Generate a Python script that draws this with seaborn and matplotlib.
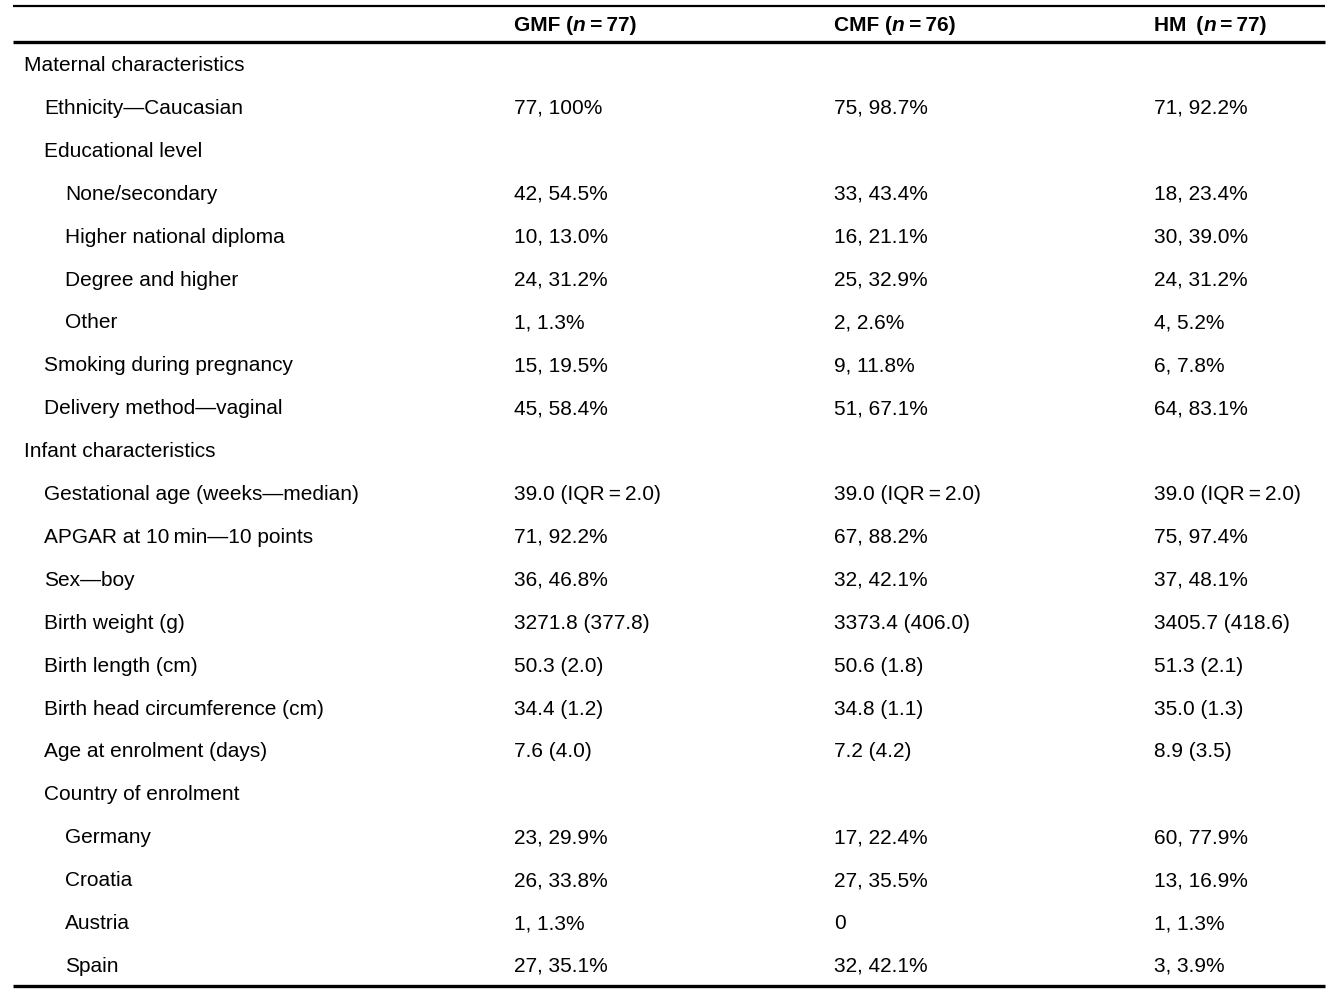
import matplotlib
matplotlib.use('Agg')
import matplotlib.pyplot as plt
import matplotlib.transforms as mtransforms
import seaborn as sns

# table content
row_labels = [
    'Maternal characteristics', 'Ethnicity\u2014Caucasian', 'Educational level',
    'None/secondary', 'Higher national diploma', 'Degree and higher', 'Other',
    'Smoking during pregnancy', 'Delivery method\u2014vaginal',
    'Infant characteristics', 'Gestational age (weeks\u2014median)',
    'APGAR at 10\u2009min\u201410 points', 'Sex\u2014boy', 'Birth weight (g)',
    'Birth length (cm)', 'Birth head circumference (cm)', 'Age at enrolment (days)',
    'Country of enrolment', 'Germany', 'Croatia', 'Austria', 'Spain',
]
indent_levels = [0, 1, 1, 2, 2, 2, 2, 1, 1, 0, 1, 1, 1, 1, 1, 1, 1, 1, 2, 2, 2, 2]

iqr = '39.0 (IQR\u2009=\u20092.0)'
gmf_vals = ['', '77, 100%', '', '42, 54.5%', '10, 13.0%', '24, 31.2%', '1, 1.3%',
            '15, 19.5%', '45, 58.4%', '', iqr, '71, 92.2%', '36, 46.8%',
            '3271.8 (377.8)', '50.3 (2.0)', '34.4 (1.2)', '7.6 (4.0)', '',
            '23, 29.9%', '26, 33.8%', '1, 1.3%', '27, 35.1%']
cmf_vals = ['', '75, 98.7%', '', '33, 43.4%', '16, 21.1%', '25, 32.9%', '2, 2.6%',
            '9, 11.8%', '51, 67.1%', '', iqr, '67, 88.2%', '32, 42.1%',
            '3373.4 (406.0)', '50.6 (1.8)', '34.8 (1.1)', '7.2 (4.2)', '',
            '17, 22.4%', '27, 35.5%', '0', '32, 42.1%']
hm_vals = ['', '71, 92.2%', '', '18, 23.4%', '30, 39.0%', '24, 31.2%', '4, 5.2%',
           '6, 7.8%', '64, 83.1%', '', iqr, '75, 97.4%', '37, 48.1%',
           '3405.7 (418.6)', '51.3 (2.1)', '35.0 (1.3)', '8.9 (3.5)', '',
           '60, 77.9%', '13, 16.9%', '1, 1.3%', '3, 3.9%']

group_names = ['GMF', 'CMF', 'HM']
group_n = [77, 76, 77]

sns.set_theme(style='white')
plt.rcParams['font.family'] = ['Liberation Sans', 'DejaVu Sans']
plt.rcParams['text.color'] = 'black'

W, H = 1334, 993
fig = plt.figure(figsize=(W / 100, H / 100), dpi=100)
ax = fig.add_axes([0, 0, 1, 1])
ax.set_xlim(0, W)
# row r sits at pixel 64 + 42.9 * r
row_h = 42.9
ax.set_ylim((H - 64) / row_h, -64 / row_h)
ax.axis('off')

fs = 15
indent_x = [24, 44, 65]
col_x = [514, 834, 1154]
base_off = 0.165

for i, lab in enumerate(row_labels):
    y = i + base_off
    ax.text(indent_x[indent_levels[i]], y, lab, fontsize=fs, va='baseline', ha='left')
    for cx, vals in zip(col_x, [gmf_vals, cmf_vals, hm_vals]):
        if vals[i]:
            ax.text(cx, y, vals[i], fontsize=fs, va='baseline', ha='left')

# header with bold italic n
fig.canvas.draw()
renderer = fig.canvas.get_renderer()
hy = -0.93 + base_off
for cx, name, n in zip(col_x, group_names, group_n):
    sep = ' (' if name != 'HM' else ' \u2009('
    pieces = [(name + sep, 'normal'), ('n', 'italic'), ('\u2009=\u2009' + str(n) + ')', 'normal')]
    off = 0.0
    for txt, style in pieces:
        tr = mtransforms.offset_copy(ax.transData, fig=fig, x=off, y=0, units='dots')
        t = ax.text(cx, hy, txt, fontsize=fs, fontweight='bold', style=style,
                    va='baseline', ha='left', transform=tr)
        off += t.get_window_extent(renderer).width

# rules
x0, x1 = 13, 1325
ax.plot([x0, x1], [(6 - 64) / row_h] * 2, color='black', lw=1.6, solid_capstyle='butt')
ax.plot([x0, x1], [(41.5 - 64) / row_h] * 2, color='black', lw=2.4, solid_capstyle='butt')
ax.plot([x0, x1], [(985.5 - 64) / row_h] * 2, color='black', lw=2.4, solid_capstyle='butt')

fig.savefig('out.png', dpi=100, facecolor='white')
